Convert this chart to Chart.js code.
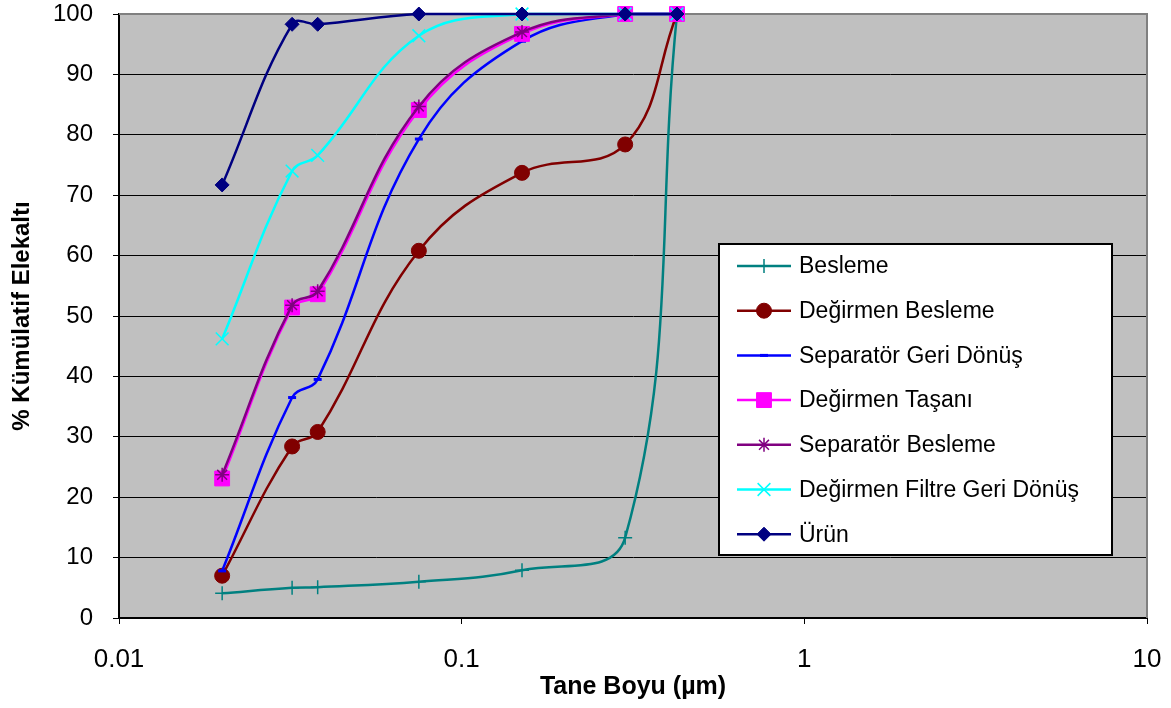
<!DOCTYPE html>
<html>
<head>
<meta charset="utf-8">
<script src="https://cdn.jsdelivr.net/npm/chart.js@4/dist/chart.umd.min.js"></script>
<style>
  html, body { margin: 0; padding: 0; background: #fff; }
  #wrap { width: 1171px; height: 708px; position: relative; }
</style>
</head>
<body>
<div id="wrap"><canvas id="psdChart"></canvas></div>
<script>
// sieve sizes (x) and cumulative passing % for each stream
const sizes = [0.02, 0.032, 0.038, 0.075, 0.15, 0.3, 0.425];
const besleme            = [4.1, 5.0, 5.1, 6.0, 7.9, 13.3, 100];
const degirmenBesleme    = [7.0, 28.4, 30.8, 60.8, 73.7, 78.4, 100];
const separatorGeriDonus = [7.8, 36.5, 39.5, 79.3, 95.5, 100, 100];
const degirmenTasani     = [23.1, 51.4, 53.6, 84.1, 96.7, 100, 100];
const separatorBesleme   = [23.7, 51.8, 54.1, 84.7, 97.0, 100, 100];
const filtreGeriDonus    = [46.2, 74.0, 76.6, 96.4, 100, 100, 100];
const urun               = [71.7, 98.3, 98.3, 100, 100, 100, 100];

const xTickValues = [0.01, 0.1, 1, 10];
const xTickLabels = ['0.01', '0.1', '1', '10'];

const seriesNames = ['Besleme', 'Değirmen Besleme', 'Separatör Geri Dönüş', 'Değirmen Taşanı',
                     'Separatör Besleme', 'Değirmen Filtre Geri Dönüş', 'Ürün'];
const seriesValues = [besleme, degirmenBesleme, separatorGeriDonus, degirmenTasani,
                      separatorBesleme, filtreGeriDonus, urun];

// colour / marker per series (Excel defaults)
const styles = [
  { color: '#008080', point: 'cross',    r: 7,    bw: 1.5, fill: '#008080' },
  { color: '#800000', point: 'circle',   r: 7.5,  bw: 1,   fill: '#800000' },
  { color: '#0000FF', point: 'line',     r: 4,    bw: 3,   fill: '#0000FF' },
  { color: '#FF00FF', point: 'rect',     r: 10.5, bw: 1,   fill: '#FF00FF' },
  { color: '#800080', point: 'star',     r: 7,    bw: 1.5, fill: '#800080' },
  { color: '#00FFFF', point: 'crossRot', r: 9,    bw: 1.5, fill: '#00FFFF' },
  { color: '#000080', point: 'rectRot',  r: 7,    bw: 1,   fill: '#000080' }
];

const FONT = "'Liberation Sans', Arial, sans-serif";

const datasets = seriesNames.map((name, i) => ({
  label: name,
  data: sizes.map((s, j) => ({ x: s, y: seriesValues[i][j] })),
  borderColor: styles[i].color,
  backgroundColor: styles[i].fill,
  borderWidth: 2.5,
  tension: 0.4,
  pointStyle: styles[i].point,
  pointRadius: styles[i].r,
  pointBorderWidth: styles[i].bw,
  pointBorderColor: styles[i].color,
  pointBackgroundColor: styles[i].fill,
  clip: false,
  order: seriesNames.length - i   // later series drawn on top, like Excel
}));

// gray plot background + gray top/right frame
const plotFrame = {
  id: 'plotFrame',
  beforeDraw(chart) {
    const { ctx, chartArea: a } = chart;
    ctx.save();
    ctx.fillStyle = '#C0C0C0';
    ctx.fillRect(a.left, a.top, a.right - a.left, a.bottom - a.top);
    ctx.restore();
  },
  beforeDatasetsDraw(chart) {
    const { ctx, chartArea: a } = chart;
    ctx.save();
    ctx.strokeStyle = '#808080';
    ctx.lineWidth = 2;
    ctx.beginPath();
    ctx.moveTo(a.left, a.top);
    ctx.lineTo(a.right, a.top);
    ctx.lineTo(a.right, a.bottom);
    ctx.stroke();
    ctx.restore();
  }
};

// boxed legend inside the plot, Excel style
const boxLegend = {
  id: 'boxLegend',
  afterDraw(chart) {
    const ctx = chart.ctx;
    const bx = 719, by = 244, bw = 393, bh = 311;
    ctx.save();
    ctx.fillStyle = '#fff';
    ctx.fillRect(bx, by, bw, bh);
    ctx.strokeStyle = '#000';
    ctx.lineWidth = 2;
    ctx.strokeRect(bx, by, bw, bh);
    ctx.font = '23px ' + FONT;
    ctx.textBaseline = 'middle';
    chart.data.datasets.forEach((ds, i) => {
      const y = by + 22 + i * 44.7;
      ctx.strokeStyle = ds.borderColor;
      ctx.lineWidth = 2.5;
      ctx.beginPath();
      ctx.moveTo(737, y);
      ctx.lineTo(791, y);
      ctx.stroke();
      ctx.fillStyle = ds.pointBackgroundColor;
      ctx.strokeStyle = ds.pointBorderColor;
      ctx.lineWidth = ds.pointBorderWidth;
      Chart.helpers.drawPoint(ctx, {
        pointStyle: ds.pointStyle, radius: ds.pointRadius,
        borderWidth: ds.pointBorderWidth, rotation: 0
      }, 764, y);
      ctx.fillStyle = '#000';
      ctx.fillText(ds.label, 799, y + 1);
    });
    ctx.restore();
  }
};

new Chart(document.getElementById('psdChart'), {
  type: 'line',
  data: { datasets },
  options: {
    responsive: true,
    maintainAspectRatio: false,
    animation: false,
    layout: { padding: { top: 14, right: 24, left: 0, bottom: 0 } },
    plugins: { legend: { display: false }, tooltip: { enabled: false } },
    scales: {
      x: {
        type: 'logarithmic',
        position: 'bottom',
        min: 0.01, max: 10,
        afterBuildTicks: (scale) => { scale.ticks = xTickValues.map(v => ({ value: v })); },
        afterFit: (scale) => { scale.height = 90; scale.paddingLeft = 0; scale.paddingRight = 0; },
        ticks: {
          autoSkip: false, maxRotation: 0, color: '#000', padding: 20,
          font: { family: FONT, size: 26 },
          callback: (v) => xTickLabels[xTickValues.indexOf(v)]
        },
        grid: { drawOnChartArea: false, drawTicks: true, tickLength: 6, tickColor: '#000' },
        border: { display: true, color: '#000', width: 2 },
        title: {
          display: true, text: 'Tane Boyu (µm)', color: '#000',
          font: { family: FONT, size: 25, weight: 'bold' },
          padding: { top: 0, bottom: 6 }
        }
      },
      y: {
        min: 0, max: 100,
        afterFit: (scale) => { scale.width = 119; scale.paddingTop = 0; scale.paddingBottom = 0; },
        ticks: { stepSize: 10, color: '#000', padding: 20, font: { family: FONT, size: 24 } },
        grid: {
          color: (c) => (c.tick && c.tick.value === 100 ? 'rgba(0,0,0,0)' : '#000'),
          lineWidth: 1, tickLength: 6, tickColor: '#000'
        },
        border: { display: true, color: '#000', width: 2 },
        title: {
          display: true, text: '% Kümülatif Elekaltı', color: '#000',
          font: { family: FONT, size: 24, weight: 'bold' },
          padding: { top: 8, bottom: 0 }
        }
      }
    }
  },
  plugins: [plotFrame, boxLegend]
});
</script>
</body>
</html>
